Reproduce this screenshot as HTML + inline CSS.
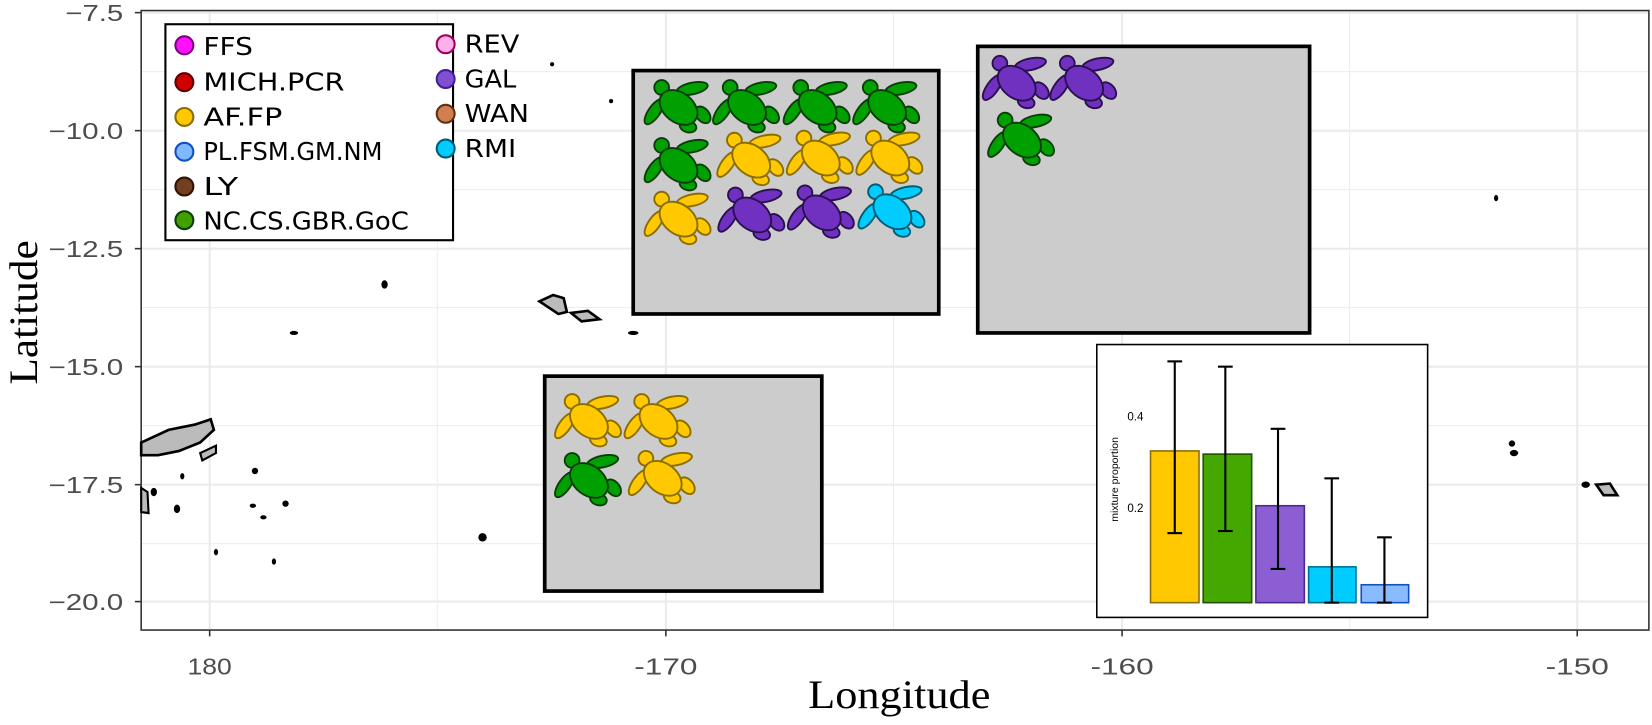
<!DOCTYPE html>
<html><head><meta charset="utf-8"><style>
body{margin:0;background:#fff}
svg{display:block}
</style></head><body>
<svg width="1652" height="725" xmlns="http://www.w3.org/2000/svg">
<defs>
<g id="t">
<ellipse cx="45" cy="8" rx="15" ry="5.5" transform="rotate(-12 45 8)"/>
<ellipse cx="9" cy="30" rx="14" ry="5.5" transform="rotate(-55 9 30)"/>
<ellipse cx="55" cy="33" rx="9" ry="6" transform="rotate(50 55 33)"/>
<ellipse cx="41" cy="44" rx="8" ry="5.5" transform="rotate(15 41 44)"/>
<circle cx="16" cy="7" r="7"/>
<ellipse cx="32" cy="26" rx="20" ry="14" transform="rotate(38 32 26)"/>
</g>
</defs>
<g transform="scale(1.0536)">
<g stroke="#ebebeb">
<g stroke-width="0.9">
<line x1="415" y1="10" x2="415" y2="598"/><line x1="848" y1="10" x2="848" y2="598"/><line x1="1281" y1="10" x2="1281" y2="598"/>
<line x1="134" y1="68" x2="1565" y2="68"/><line x1="134" y1="180" x2="1565" y2="180"/><line x1="134" y1="292" x2="1565" y2="292"/><line x1="134" y1="404" x2="1565" y2="404"/><line x1="134" y1="516" x2="1565" y2="516"/>
</g>
<g stroke-width="2">
<line x1="199" y1="10" x2="199" y2="598"/><line x1="632" y1="10" x2="632" y2="598"/><line x1="1065" y1="10" x2="1065" y2="598"/><line x1="1497" y1="10" x2="1497" y2="598"/>
<line x1="134" y1="12" x2="1565" y2="12"/><line x1="134" y1="124" x2="1565" y2="124"/><line x1="134" y1="236" x2="1565" y2="236"/><line x1="134" y1="348" x2="1565" y2="348"/><line x1="134" y1="460" x2="1565" y2="460"/><line x1="134" y1="571" x2="1565" y2="571"/>
</g>
</g>
<rect x="134" y="10" width="1431" height="588" fill="none" stroke="#333" stroke-width="1.5"/>
<g stroke="#333" stroke-width="1.5">
<line x1="128" y1="12" x2="134" y2="12"/><line x1="128" y1="124" x2="134" y2="124"/><line x1="128" y1="236" x2="134" y2="236"/><line x1="128" y1="348" x2="134" y2="348"/><line x1="128" y1="460" x2="134" y2="460"/><line x1="128" y1="571" x2="134" y2="571"/>
<line x1="199" y1="598" x2="199" y2="604"/><line x1="632" y1="598" x2="632" y2="604"/><line x1="1065" y1="598" x2="1065" y2="604"/><line x1="1497" y1="598" x2="1497" y2="604"/>
</g>
<g font-family="Liberation Sans, sans-serif" font-size="22" fill="#4d4d4d">
<text x="62" y="20" textLength="55" lengthAdjust="spacingAndGlyphs">−7.5</text>
<text x="46" y="132" textLength="71" lengthAdjust="spacingAndGlyphs">−10.0</text>
<text x="46" y="244" textLength="71" lengthAdjust="spacingAndGlyphs">−12.5</text>
<text x="46" y="356" textLength="71" lengthAdjust="spacingAndGlyphs">−15.0</text>
<text x="46" y="468" textLength="71" lengthAdjust="spacingAndGlyphs">−17.5</text>
<text x="46" y="579" textLength="71" lengthAdjust="spacingAndGlyphs">−20.0</text>
<text x="178" y="640" textLength="42" lengthAdjust="spacingAndGlyphs">180</text>
<text x="602" y="640" textLength="60" lengthAdjust="spacingAndGlyphs">-170</text>
<text x="1035" y="640" textLength="60" lengthAdjust="spacingAndGlyphs">-160</text>
<text x="1467" y="640" textLength="60" lengthAdjust="spacingAndGlyphs">-150</text>
</g>
<text x="767" y="672" font-family="Liberation Serif, serif" font-size="38" textLength="173" lengthAdjust="spacingAndGlyphs">Longitude</text>
<text transform="translate(35 365) rotate(-90)" font-family="Liberation Serif, serif" font-size="38" textLength="137" lengthAdjust="spacingAndGlyphs">Latitude</text>
<g fill="#000">
<path d="M134 420 L160 408 L185 403 L200 398 L203 408 L190 420 L170 428 L150 432 L134 432Z" fill="#bbb" stroke="#000" stroke-width="2.5"/>
<path d="M190 430 L205 423 L205 430 L192 437Z" fill="#bbb" stroke="#000" stroke-width="2"/>
<path d="M134 463 L140 467 L141 487 L134 486Z" fill="#bbb" stroke="#000" stroke-width="2"/>
<ellipse cx="146" cy="467" rx="3" ry="4"/><ellipse cx="168" cy="483" rx="3" ry="4"/><ellipse cx="173" cy="452" rx="2" ry="3"/>
<ellipse cx="242" cy="447" rx="3" ry="3"/><ellipse cx="240" cy="480" rx="3" ry="2"/><ellipse cx="250" cy="491" rx="3" ry="2"/><ellipse cx="271" cy="478" rx="3" ry="3"/>
<ellipse cx="205" cy="524" rx="2" ry="3"/><ellipse cx="260" cy="533" rx="2" ry="3"/><ellipse cx="279" cy="316" rx="4" ry="2"/><ellipse cx="365" cy="270" rx="3" ry="4"/>
<ellipse cx="458" cy="510" rx="4" ry="4"/><ellipse cx="524" cy="61" rx="2" ry="2"/><ellipse cx="580" cy="96" rx="2" ry="2"/><ellipse cx="601" cy="316" rx="5" ry="2"/>
<path d="M512 286 L525 280 L535 283 L538 296 L530 298 Z" fill="#bbb" stroke="#000" stroke-width="2.5"/>
<path d="M542 297 L558 295 L569 303 L552 305Z" fill="#bbb" stroke="#000" stroke-width="2.5"/>
<ellipse cx="1420" cy="188" rx="2" ry="3"/><ellipse cx="1435" cy="421" rx="3" ry="3"/><ellipse cx="1437" cy="430" rx="4" ry="3"/><ellipse cx="1505" cy="460" rx="4" ry="3"/>
<path d="M1515 460 L1528 459 L1535 470 L1522 470Z" fill="#bbb" stroke="#000" stroke-width="2.5"/>
</g>
<rect x="601" y="67" width="290" height="231" fill="#ccc" stroke="#000" stroke-width="3.5"/>
<rect x="928" y="44" width="315" height="272" fill="#ccc" stroke="#000" stroke-width="3.5"/>
<rect x="517" y="357" width="263" height="204" fill="#ccc" stroke="#000" stroke-width="3.5"/>
<g stroke-width="1.8">
<g fill="#00a000" stroke="#0a3d0a">
<use href="#t" x="612" y="76"/><use href="#t" x="677" y="76"/><use href="#t" x="744" y="76"/><use href="#t" x="810" y="76"/>
<use href="#t" x="612" y="131"/>
<use href="#t" x="938" y="107"/><use href="#t" x="527" y="430"/>
</g>
<g fill="#ffc800" stroke="#8a6d00">
<use href="#t" x="681" y="126"/><use href="#t" x="747" y="124"/><use href="#t" x="813" y="124"/>
<use href="#t" x="612" y="182"/>
<use href="#t" x="527" y="374"/><use href="#t" x="593" y="374"/><use href="#t" x="597" y="428"/>
</g>
<g fill="#7030c0" stroke="#2a1050">
<use href="#t" x="682" y="178"/><use href="#t" x="748" y="176"/>
<use href="#t" x="933" y="53"/><use href="#t" x="997" y="53"/>
</g>
<g fill="#00ccff" stroke="#005c73"><use href="#t" x="815" y="175"/></g>
</g>
<rect x="157" y="23" width="273" height="205" fill="#fff" stroke="#000" stroke-width="2"/>
<g stroke-width="2">
<circle cx="175" cy="43" r="8.5" fill="#ff10ff" stroke="#800080"/>
<circle cx="175" cy="78" r="8.5" fill="#d00000" stroke="#600000"/>
<circle cx="175" cy="111" r="8.5" fill="#ffc800" stroke="#8a6d00"/>
<circle cx="175" cy="144" r="8.5" fill="#80b8ff" stroke="#1050c0"/>
<circle cx="175" cy="177" r="8.5" fill="#704020" stroke="#301000"/>
<circle cx="175" cy="209" r="8.5" fill="#40a000" stroke="#0a3d0a"/>
<circle cx="423" cy="42" r="8.5" fill="#ffb0e8" stroke="#a00060"/>
<circle cx="423" cy="75" r="8.5" fill="#8050d0" stroke="#4020a0"/>
<circle cx="423" cy="108" r="8.5" fill="#d08050" stroke="#603010"/>
<circle cx="423" cy="141" r="8.5" fill="#00ccff" stroke="#005c73"/>
</g>
<g font-family="DejaVu Sans, sans-serif" font-size="24" fill="#000">
<text x="193" y="52" textLength="47" lengthAdjust="spacingAndGlyphs">FFS</text>
<text x="193" y="86" textLength="134" lengthAdjust="spacingAndGlyphs">MICH.PCR</text>
<text x="193" y="119" textLength="75" lengthAdjust="spacingAndGlyphs">AF.FP</text>
<text x="193" y="152" textLength="170" lengthAdjust="spacingAndGlyphs">PL.FSM.GM.NM</text>
<text x="193" y="185" textLength="33" lengthAdjust="spacingAndGlyphs">LY</text>
<text x="193" y="218" textLength="195" lengthAdjust="spacingAndGlyphs">NC.CS.GBR.GoC</text>
<text x="441" y="50" textLength="52" lengthAdjust="spacingAndGlyphs">REV</text>
<text x="441" y="83" textLength="49" lengthAdjust="spacingAndGlyphs">GAL</text>
<text x="441" y="116" textLength="61" lengthAdjust="spacingAndGlyphs">WAN</text>
<text x="441" y="149" textLength="49" lengthAdjust="spacingAndGlyphs">RMI</text>
</g>
<rect x="1041" y="327" width="314" height="259" fill="#fff" stroke="#000" stroke-width="1.5"/>
<g stroke-width="1.5">
<rect x="1092" y="428" width="46" height="144" fill="#ffc800" stroke="#8a6d00"/>
<rect x="1142" y="431" width="46" height="141" fill="#44a800" stroke="#225000"/>
<rect x="1192" y="480" width="46" height="92" fill="#8c5ed4" stroke="#4a2a90"/>
<rect x="1242" y="538" width="45" height="34" fill="#00ccff" stroke="#007090"/>
<rect x="1292" y="555" width="45" height="17" fill="#88bbff" stroke="#1050c0"/>
</g>
<g stroke="#000" stroke-width="2">
<line x1="1115" y1="343" x2="1115" y2="506"/><line x1="1108" y1="343" x2="1122" y2="343"/><line x1="1108" y1="506" x2="1122" y2="506"/>
<line x1="1163" y1="348" x2="1163" y2="504"/><line x1="1156" y1="348" x2="1170" y2="348"/><line x1="1156" y1="504" x2="1170" y2="504"/>
<line x1="1213" y1="407" x2="1213" y2="540"/><line x1="1206" y1="407" x2="1220" y2="407"/><line x1="1206" y1="540" x2="1220" y2="540"/>
<line x1="1264" y1="454" x2="1264" y2="572"/><line x1="1257" y1="454" x2="1271" y2="454"/><line x1="1257" y1="572" x2="1271" y2="572"/>
<line x1="1314" y1="510" x2="1314" y2="572"/><line x1="1307" y1="510" x2="1321" y2="510"/><line x1="1307" y1="572" x2="1321" y2="572"/>
</g>
<g font-family="Liberation Sans, sans-serif" font-size="11" fill="#000">
<text x="1070" y="399">0.4</text><text x="1070" y="486">0.2</text>
<text transform="translate(1061 455) rotate(-90)" text-anchor="middle" font-size="10">mixture proportion</text>
</g>
</g>
</svg>
</body></html>
